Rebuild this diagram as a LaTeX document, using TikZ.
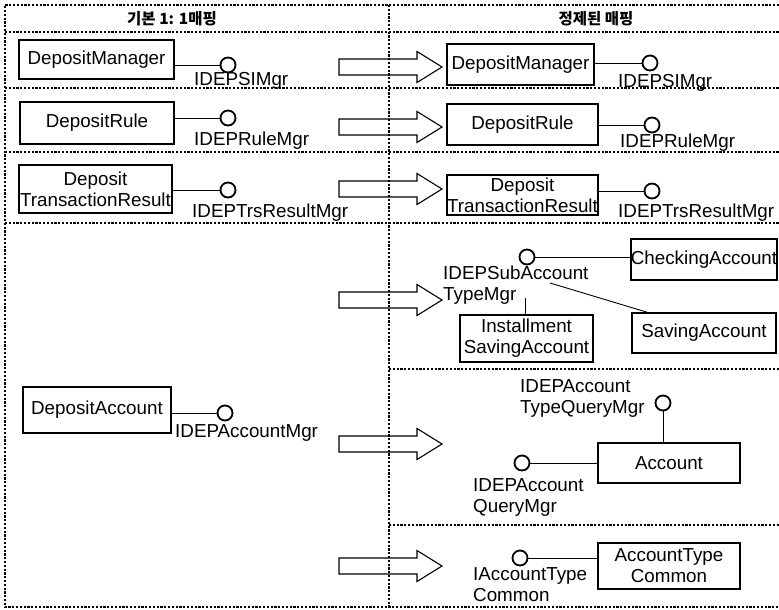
\documentclass[tikz,border=0pt]{standalone}
\usepackage{fontspec}
\setmainfont{Liberation Sans}
\newfontfamily\kofont{Noto Sans CJK KR}
\begin{document}
\begin{tikzpicture}[x=1pt,y=-1pt,
  every node/.style={font=\fontsize{18.8}{21}\selectfont, inner sep=0pt},
  box/.style={draw, line width=1.6pt, align=center},
  iface/.style={draw, circle, line width=1.8pt, minimum size=15pt},
  conn/.style={line width=0.9pt},
  frame/.style={line width=1.1pt, dash pattern=on 2.2pt off 1.6pt},
  lbl/.style={anchor=base west, align=left},
  head/.style={font=\kofont\bfseries\fontsize{15.5}{18}\selectfont},
  blockarrow/.pic={\draw[line width=1.1pt] (0,-8) -- (78,-8) -- (78,-15.5) -- (103,0) -- (78,15.5) -- (78,8) -- (0,8) -- cycle;}
]
\useasboundingbox (0,0) rectangle (779,610);

% table frame
\draw[frame] (779,5) -- (5,5) -- (5,607) -- (779,607);
\draw[frame] (389,5) -- (389,607);
\foreach \yy in {32,88,152,223} \draw[frame] (5,\yy) -- (779,\yy);
\foreach \yy in {369,525} \draw[frame] (389,\yy) -- (779,\yy);

% headers
\node[head] (h1) at (172,19) {기본 1: 1매핑};
\node[head] (h2) at (596,19) {정제된 매핑};

% block arrows
\foreach \yy in {67,127,189,300,444,566} \pic at (339,\yy) {blockarrow};

% row 1
\node[box, minimum width=155pt, minimum height=39pt] (dmL) at (96.5,59.5) {DepositManager};
\node[iface] (dmLi) at (228,65) {};
\draw[conn] (dmL.east |- dmLi) -- (dmLi);
\node[lbl] (dmLl) at (194,85) {IDEPSIMgr};
\node[box, minimum width=147pt, minimum height=41pt] (dmR) at (520.5,64.5) {DepositManager};
\node[iface] (dmRi) at (650,63) {};
\draw[conn] (dmR.east |- dmRi) -- (dmRi);
\node[lbl] (dmRl) at (618,88) {IDEPSIMgr};

% row 2
\node[box, minimum width=154pt, minimum height=42pt] (drL) at (97,123) {DepositRule};
\node[iface] (drLi) at (228,118) {};
\draw[conn] (drL.east |- drLi) -- (drLi);
\node[lbl] (drLl) at (194,145) {IDEPRuleMgr};
\node[box, minimum width=151pt, minimum height=41pt] (drR) at (522.5,124.5) {DepositRule};
\node[iface] (drRi) at (652,125) {};
\draw[conn] (drR.east |- drRi) -- (drRi);
\node[lbl] (drRl) at (620,147) {IDEPRuleMgr};

% row 3
\node[box, minimum width=153pt, minimum height=48pt] (trL) at (95.5,189) {Deposit\\TransactionResult};
\node[iface] (trLi) at (228,190) {};
\draw[conn] (trL.east |- trLi) -- (trLi);
\node[lbl] (trLl) at (192,217) {IDEPTrsResultMgr};
\node[box, minimum width=151pt, minimum height=40pt] (trR) at (522.5,195) {Deposit\\TransactionResult};
\node[iface] (trRi) at (652,191) {};
\draw[conn] (trR.east |- trRi) -- (trRi);
\node[lbl] (trRl) at (618,217) {IDEPTrsResultMgr};

% row 4, basic mapping
\node[box, minimum width=148pt, minimum height=46pt] (daL) at (97,410) {DepositAccount};
\node[iface] (daLi) at (225,413) {};
\draw[conn] (daL.east |- daLi) -- (daLi);
\node[lbl] (daLl) at (175,437) {IDEPAccountMgr};

% row 4, refined: sub account types
\node[iface] (subi) at (527,257) {};
\node[box, minimum width=144pt, minimum height=41pt] (chk) at (704,259.5) {CheckingAccount};
\node[box, minimum width=133pt, minimum height=47pt] (ins) at (526.5,338.5) {Installment\\SavingAccount};
\node[box, minimum width=144pt, minimum height=40pt] (sav) at (704,333) {SavingAccount};
\draw[conn] (subi) -- (subi -| chk.west);
\coordinate (subA) at (525,298);
\coordinate (subB) at (550,283);
\draw[conn] (subA) -- (subA |- ins.north);
\draw[conn] (subB) -- ([xshift=-57pt]sav.north);
\node[lbl] (subl) at (443,300) {IDEPSubAccount\\TypeMgr};

% row 4, refined: account
\node[box, minimum width=142pt, minimum height=40pt] (acc) at (669,463) {Account};
\node[iface] (acti) at (663,403) {};
\draw[conn] (acti) -- (acti |- acc.north);
\node[lbl] (actl) at (520,413) {IDEPAccount\\TypeQueryMgr};
\node[iface] (aqi) at (522,463) {};
\draw[conn] (aqi) -- (acc.west |- aqi);
\node[lbl] (aql) at (473,512) {IDEPAccount\\QueryMgr};

% row 4, refined: account type common
\node[box, minimum width=142pt, minimum height=46pt] (atc) at (669,566) {AccountType\\Common};
\node[iface] (atci) at (520,558) {};
\draw[conn] (atci) -- (atc.west |- atci);
\node[lbl] (atcl) at (473,601) {IAccountType\\Common};
\end{tikzpicture}
\end{document}
